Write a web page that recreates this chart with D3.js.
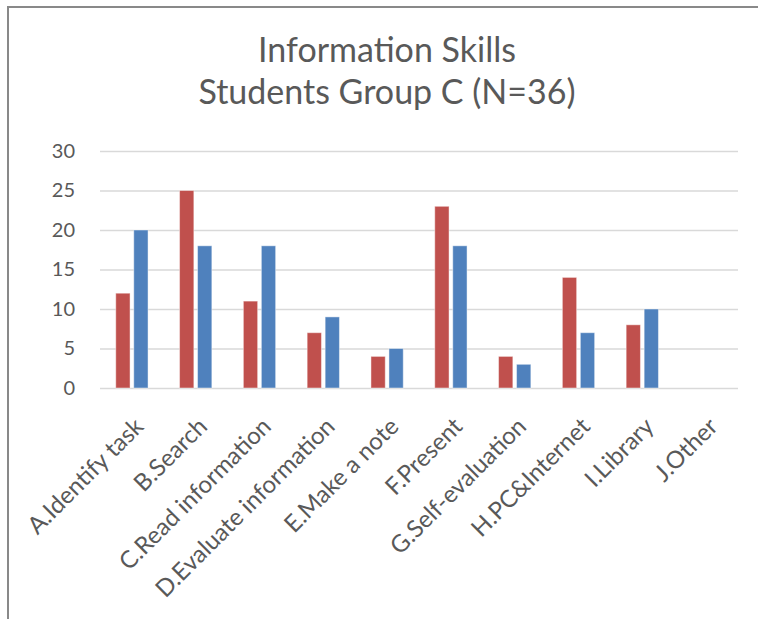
<!DOCTYPE html>
<html>
<head>
<meta charset="utf-8">
<script src="https://cdn.jsdelivr.net/npm/d3@7"></script>
<style>
    body { margin: 0; background: #fff; }
    svg text { font-family: Lato, "Open Sans", sans-serif; fill: #595959; }
</style>
</head>
<body>
<div id="chart"></div>
<script>
// values
const categories = ['A.Identify task', 'B.Search', 'C.Read information', 'D.Evaluate information',
    'E.Make a note', 'F.Present', 'G.Self-evaluation', 'H.PC&Internet', 'I.Library', 'J.Other'];
const series1 = [12, 25, 11, 7, 4, 23, 4, 14, 8, 0];
const series2 = [20, 18, 18, 9, 5, 18, 3, 7, 10, 0];
const seriesNames = ['Series1', 'Series2'];
const seriesColors = ['#C0504D', '#4F81BD'];
const yTicks = [0, 5, 10, 15, 20, 25, 30];
const titleLines = ['Information Skills', 'Students Group C (N=36)'];

const width = 758;
const height = 619;
const margin = {top: 151, right: 20, bottom: 231, left: 100};

const svg = d3.select('#chart').append('svg')
    .attr('width', width)
    .attr('height', height)
    .attr('viewBox', [0, 0, width, height]);

// chart frame (runs off the right and bottom of the picture)
svg.append('rect')
    .attr('x', 8)
    .attr('y', 7)
    .attr('width', 800)
    .attr('height', 700)
    .attr('fill', 'none')
    .attr('stroke', '#898989')
    .attr('stroke-width', 2);

let x0 = d3.scaleBand()
    .domain(categories)
    .range([margin.left, width - margin.right]);

// the pair of bars takes the middle half of each category band
let x1 = d3.scaleBand()
    .domain(seriesNames)
    .range([x0.bandwidth() * 0.247, x0.bandwidth() * 0.753])
    .paddingInner(0.206);

let y = d3.scaleLinear()
    .domain([0, 30])
    .range([height - margin.bottom, margin.top]);

// gridlines + y labels
let yAxis = g => g
    .attr('transform', `translate(${margin.left}, 0)`)
    .call(d3.axisLeft(y)
        .tickValues(yTicks)
        .tickSize(-(width - margin.left - margin.right))
        .tickPadding(25))
    .call(g => g.select('.domain').remove())
    .call(g => g.selectAll('.tick line')
        .attr('stroke', '#D9D9D9')
        .attr('stroke-width', 1.5))
    .call(g => g.selectAll('.tick text')
        .attr('font-size', 20)
        .attr('font-family', null)
        .attr('fill', null));

svg.append('g').call(yAxis);

// bars
const table = categories.map((c, i) => ({category: c, values: [series1[i], series2[i]]}));

let groups = svg.append('g')
    .selectAll('g')
    .data(table)
    .join('g')
    .attr('transform', d => `translate(${x0(d.category)}, 0)`);

groups.selectAll('rect')
    .data(d => d.values.map((v, j) => ({name: seriesNames[j], value: v, color: seriesColors[j]})))
    .join('rect')
    .attr('x', d => x1(d.name))
    .attr('y', d => y(d.value))
    .attr('width', x1.bandwidth())
    .attr('height', d => y(0) - y(d.value))
    .attr('fill', d => d.color)
    .attr('stroke', '#fff')
    .attr('stroke-opacity', 0.45)
    .attr('stroke-width', 1);

// category labels, rotated 45 degrees
svg.append('g')
    .selectAll('text')
    .data(categories)
    .join('text')
    .attr('transform', d => `translate(${x0(d) + x0.bandwidth() / 2 + 13}, ${y(0) + 40}) rotate(-45)`)
    .attr('text-anchor', 'end')
    .attr('font-size', 24)
    .text(d => d);

// title
svg.append('text')
    .attr('x', 387)
    .attr('text-anchor', 'middle')
    .attr('font-size', 34)
    .selectAll('tspan')
    .data(titleLines)
    .join('tspan')
    .attr('x', 387)
    .attr('y', (d, i) => 62 + i * 42)
    .text(d => d);
</script>
</body>
</html>
